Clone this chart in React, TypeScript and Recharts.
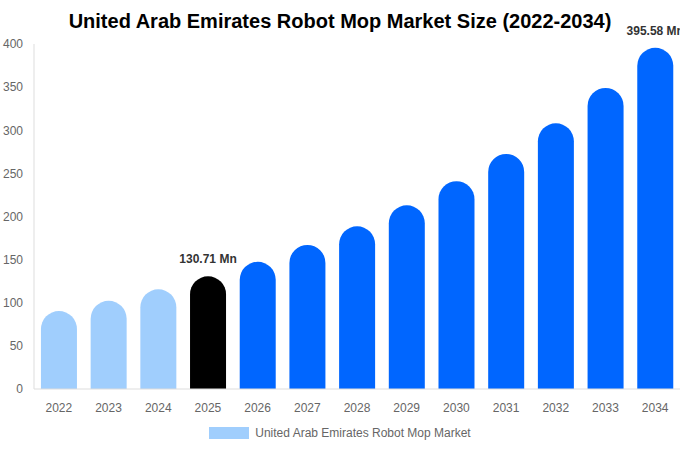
import React from 'react';
import { BarChart, Bar, XAxis, YAxis, Cell, LabelList, Legend } from 'recharts';

const years = ['2022', '2023', '2024', '2025', '2026', '2027', '2028', '2029', '2030', '2031', '2032', '2033', '2034'];
const marketSize = [90.4, 102.3, 115.6, 130.71, 147.5, 167, 188.6, 213, 241, 272.5, 308, 349, 395.58];
const yTicks = [0, 50, 100, 150, 200, 250, 300, 350, 400];
const labelled = ['2025', '2034'];

const seriesName = 'United Arab Emirates Robot Mop Market';
const font = '"Liberation Sans", Arial, sans-serif';

const barColor = (year: string) => {
  const y = Number(year);
  if (y < 2025) return '#a0cefd';
  if (y === 2025) return '#000000';
  return '#0066ff';
};

const data = years.map((year, i) => ({ year, value: marketSize[i] }));

const ValueLabel = (props: any) => {
  const { x, y, width, index } = props;
  const row = data[index];
  if (!row || !labelled.includes(row.year)) return null;
  return (
    <text
      x={x + width / 2}
      y={y - 13}
      textAnchor="middle"
      fontSize={12}
      fontWeight="bold"
      fill="#333"
      fontFamily={font}
    >
      {row.value.toFixed(2)} Mn
    </text>
  );
};

const LegendBox = () => (
  <div style={{ display: 'flex', justifyContent: 'center', alignItems: 'center', fontFamily: font, fontSize: 12, color: '#666', paddingTop: 7 }}>
    <span style={{ display: 'inline-block', width: 40, height: 12, background: '#a0cefd', marginRight: 6 }} />
    <span>{seriesName}</span>
  </div>
);

export default function App() {
  return (
    <div style={{ position: 'absolute', left: 0, top: 0, width: 680, height: 450, background: '#fff' }}>
      <div
        style={{
          position: 'absolute',
          top: 8,
          left: 0,
          width: 680,
          textAlign: 'center',
          fontFamily: font,
          fontWeight: 'bold',
          fontSize: 20,
          color: '#000',
          lineHeight: '26px',
          zIndex: 1,
        }}
      >
        United Arab Emirates Robot Mop Market Size (2022-2034)
      </div>
      <BarChart
        width={680}
        height={450}
        data={data}
        margin={{ top: 44, right: 0, left: 0, bottom: 3 }}
        barCategoryGap="14%"
      >
        <XAxis
          dataKey="year"
          tickLine={false}
          axisLine={{ stroke: '#ddd' }}
          tick={{ fill: '#666', fontSize: 12, fontFamily: font }}
          tickMargin={8}
          height={30}
        />
        <YAxis
          ticks={yTicks}
          domain={[0, 400]}
          width={34}
          tickLine={false}
          axisLine={{ stroke: '#ddd' }}
          tick={{ fill: '#666', fontSize: 12, fontFamily: font }}
          tickMargin={5}
        />
        <Legend verticalAlign="bottom" content={<LegendBox />} wrapperStyle={{ height: 28 }} />
        <Bar dataKey="value" name={seriesName} radius={[18, 18, 0, 0]} isAnimationActive={false}>
          {data.map((d) => (
            <Cell key={d.year} fill={barColor(d.year)} />
          ))}
          <LabelList dataKey="value" content={ValueLabel} />
        </Bar>
      </BarChart>
    </div>
  );
}
